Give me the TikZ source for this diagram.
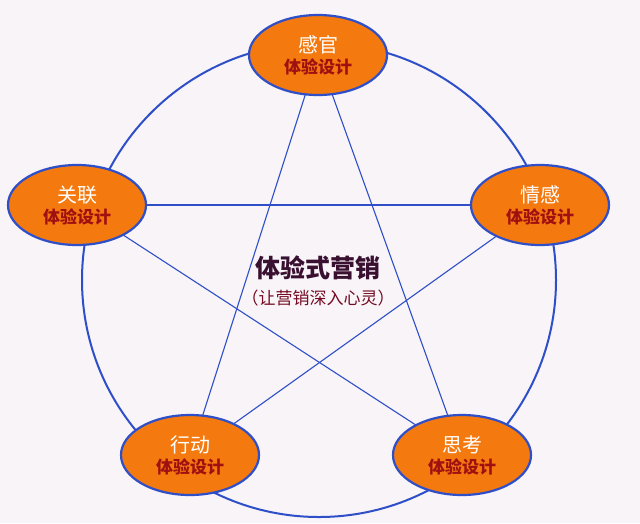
\documentclass[tikz,border=0pt]{standalone}
\usepackage{fontspec}
\newfontfamily\cjk{Noto Sans CJK SC}
\usetikzlibrary{shapes.geometric}
\definecolor{bgpink}{HTML}{F8F4F8}
\definecolor{ringblue}{HTML}{2F4FC8}
\definecolor{nodeorange}{HTML}{F47A10}
\definecolor{labelred}{HTML}{A01010}
\definecolor{titledark}{HTML}{3A1030}
\begin{document}
\begin{tikzpicture}[x=1pt, y=-1pt, >=latex,
  expnode/.style={ellipse, draw=ringblue, line width=2.2pt, fill=nodeorange,
    minimum width=138pt, minimum height=80pt, inner sep=0pt, align=center,
    font=\cjk\fontsize{20}{24}\selectfont, text=white},
  starline/.style={draw=ringblue, line width=1.1pt}]

  \fill[bgpink](0,0)rectangle(640,523);
  \useasboundingbox(0,0)rectangle(640,523);

  % outer ring
  \draw[ringblue, line width=2pt](319,280)circle(237);

  % the five experience nodes
  \coordinate (sense) at (318,55);
  \coordinate (feel) at (540,205);
  \coordinate (think) at (462,455);
  \coordinate (act) at (190,455);
  \coordinate (relate) at (77,205);

  \draw[starline](sense)--(act);
  \draw[starline](sense)--(think);
  \draw[starline](relate)--(feel);
  \draw[starline](relate)--(think);
  \draw[starline](feel)--(act);

  \node[expnode] (n-sense) at (sense) {感官\\[-3pt]{\color{labelred}\fontsize{17}{19}\selectfont\bfseries 体验设计}};
  \node[expnode] (n-feel) at (feel) {情感\\[-3pt]{\color{labelred}\fontsize{17}{19}\selectfont\bfseries 体验设计}};
  \node[expnode] (n-think) at (think) {思考\\[-3pt]{\color{labelred}\fontsize{17}{19}\selectfont\bfseries 体验设计}};
  \node[expnode] (n-act) at (act) {行动\\[-3pt]{\color{labelred}\fontsize{17}{19}\selectfont\bfseries 体验设计}};
  \node[expnode] (n-relate) at (relate) {关联\\[-3pt]{\color{labelred}\fontsize{17}{19}\selectfont\bfseries 体验设计}};

  % centre title
  \node[font=\cjk\bfseries\fontsize{25}{28}\selectfont, text=titledark] (title) at (318,268) {体验式营销};
  \node[font=\cjk\fontsize{17}{19}\selectfont, text=titledark!70!red] (subtitle) at (318,298) {（让营销深入心灵）};
\end{tikzpicture}
\end{document}
